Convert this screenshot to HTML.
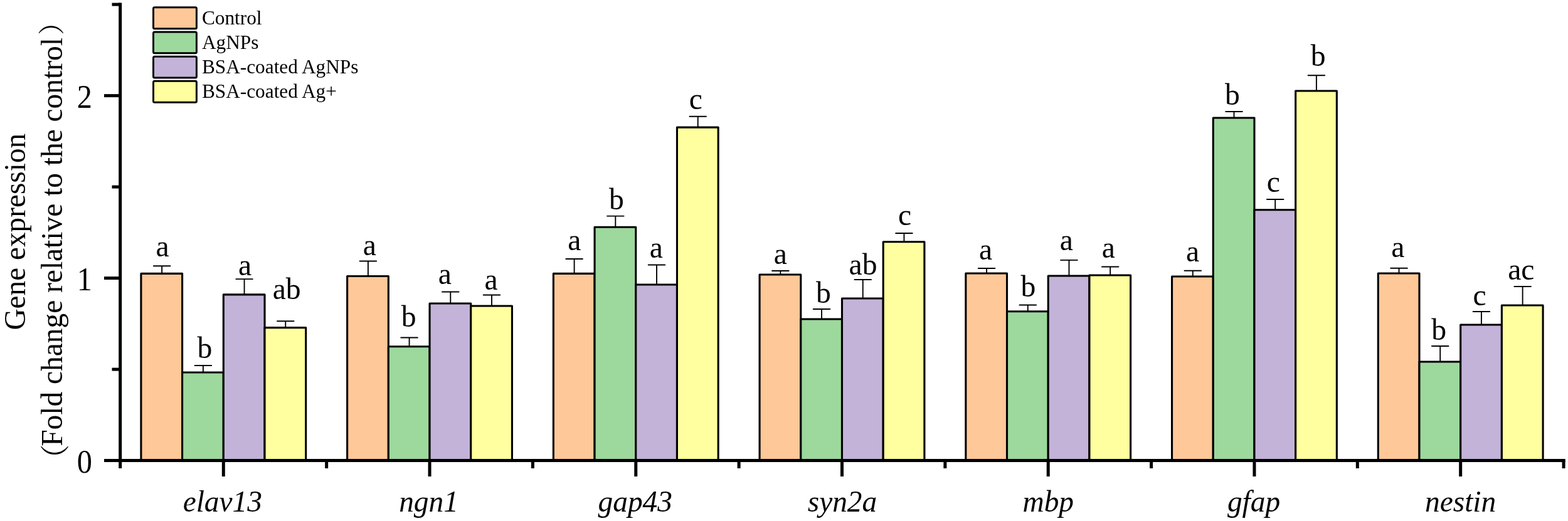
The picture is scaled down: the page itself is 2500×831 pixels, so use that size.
<!DOCTYPE html>
<html lang="en">
<head>
<meta charset="utf-8">
<title>Gene expression</title>
<style>
html,body{margin:0;padding:0;background:#fff;}
body{width:2500px;height:831px;overflow:hidden;}
svg{display:block;}
text{font-family:"Liberation Serif",serif;fill:#000;}
.l{font-size:47.6px;text-anchor:middle;}
.t{font-size:52.5px;text-anchor:end;}
.x{font-size:48.1px;font-style:italic;text-anchor:middle;}
.g{font-size:31.3px;}
.y{font-size:48px;text-anchor:middle;}
.p{font-family:"Liberation Serif","Noto Serif CJK SC",serif;}
</style>
</head>
<body>
<svg width="2500" height="831" viewBox="0 0 2500 831">
<rect width="2500" height="831" fill="#fff"/>
<g stroke="#000" stroke-width="3.1" stroke-linejoin="round">
<rect x="224.90" y="436.40" width="65.70" height="298.20" fill="#FEC898"/>
<rect x="290.60" y="594.00" width="65.70" height="140.60" fill="#9DD89D"/>
<rect x="356.30" y="469.90" width="65.70" height="264.70" fill="#C3B3D8"/>
<rect x="422.00" y="522.60" width="65.70" height="212.00" fill="#FFFFA0"/>
<rect x="553.63" y="440.50" width="65.70" height="294.10" fill="#FEC898"/>
<rect x="619.33" y="552.80" width="65.70" height="181.80" fill="#9DD89D"/>
<rect x="685.03" y="484.00" width="65.70" height="250.60" fill="#C3B3D8"/>
<rect x="750.73" y="488.00" width="65.70" height="246.60" fill="#FFFFA0"/>
<rect x="882.36" y="436.40" width="65.70" height="298.20" fill="#FEC898"/>
<rect x="948.06" y="362.20" width="65.70" height="372.40" fill="#9DD89D"/>
<rect x="1013.76" y="454.00" width="65.70" height="280.60" fill="#C3B3D8"/>
<rect x="1079.46" y="203.10" width="65.70" height="531.50" fill="#FFFFA0"/>
<rect x="1211.09" y="438.00" width="65.70" height="296.60" fill="#FEC898"/>
<rect x="1276.79" y="509.00" width="65.70" height="225.60" fill="#9DD89D"/>
<rect x="1342.49" y="476.00" width="65.70" height="258.60" fill="#C3B3D8"/>
<rect x="1408.19" y="385.70" width="65.70" height="348.90" fill="#FFFFA0"/>
<rect x="1539.82" y="436.00" width="65.70" height="298.60" fill="#FEC898"/>
<rect x="1605.52" y="496.80" width="65.70" height="237.80" fill="#9DD89D"/>
<rect x="1671.22" y="440.00" width="65.70" height="294.60" fill="#C3B3D8"/>
<rect x="1736.92" y="439.00" width="65.70" height="295.60" fill="#FFFFA0"/>
<rect x="1868.55" y="441.00" width="65.70" height="293.60" fill="#FEC898"/>
<rect x="1934.25" y="188.00" width="65.70" height="546.60" fill="#9DD89D"/>
<rect x="1999.95" y="334.80" width="65.70" height="399.80" fill="#C3B3D8"/>
<rect x="2065.65" y="145.00" width="65.70" height="589.60" fill="#FFFFA0"/>
<rect x="2197.28" y="436.00" width="65.70" height="298.60" fill="#FEC898"/>
<rect x="2262.98" y="577.00" width="65.70" height="157.60" fill="#9DD89D"/>
<rect x="2328.68" y="518.00" width="65.70" height="216.60" fill="#C3B3D8"/>
<rect x="2394.38" y="487.00" width="65.70" height="247.60" fill="#FFFFA0"/>
</g>
<g stroke="#000" stroke-width="1.9" stroke-linecap="round" fill="none">
<path d="M258.15 436.40V424.30M244.85 424.30H271.45"/>
<path d="M323.85 594.00V583.00M310.55 583.00H337.15"/>
<path d="M389.55 469.90V445.10M376.25 445.10H402.85"/>
<path d="M455.25 522.60V512.30M441.95 512.30H468.55"/>
<path d="M586.88 440.50V416.50M573.58 416.50H600.18"/>
<path d="M652.58 552.80V538.50M639.28 538.50H665.88"/>
<path d="M718.28 484.00V465.50M704.98 465.50H731.58"/>
<path d="M783.98 488.00V470.50M770.68 470.50H797.28"/>
<path d="M915.61 436.40V413.00M902.31 413.00H928.91"/>
<path d="M981.31 362.20V344.60M968.01 344.60H994.61"/>
<path d="M1047.01 454.00V422.50M1033.71 422.50H1060.31"/>
<path d="M1112.71 203.10V185.70M1099.41 185.70H1126.01"/>
<path d="M1244.34 438.00V432.00M1231.04 432.00H1257.64"/>
<path d="M1310.04 509.00V493.00M1296.74 493.00H1323.34"/>
<path d="M1375.74 476.00V446.00M1362.44 446.00H1389.04"/>
<path d="M1441.44 385.70V372.00M1428.14 372.00H1454.74"/>
<path d="M1573.07 436.00V428.00M1559.77 428.00H1586.37"/>
<path d="M1638.77 496.80V486.50M1625.47 486.50H1652.07"/>
<path d="M1704.47 440.00V414.90M1691.17 414.90H1717.77"/>
<path d="M1770.17 439.00V425.50M1756.87 425.50H1783.47"/>
<path d="M1901.80 441.00V431.80M1888.50 431.80H1915.10"/>
<path d="M1967.50 188.00V178.00M1954.20 178.00H1980.80"/>
<path d="M2033.20 334.80V318.00M2019.90 318.00H2046.50"/>
<path d="M2098.90 145.00V120.20M2085.60 120.20H2112.20"/>
<path d="M2230.53 436.00V427.80M2217.23 427.80H2243.83"/>
<path d="M2296.23 577.00V552.00M2282.93 552.00H2309.53"/>
<path d="M2361.93 518.00V497.00M2348.63 497.00H2375.23"/>
<path d="M2427.63 487.00V457.00M2414.33 457.00H2440.93"/>
</g>
<text class="l" x="259.00" y="409.20">a</text>
<text class="l" x="326.50" y="570.60">b</text>
<text class="l" x="390.50" y="439.20">a</text>
<text class="l" x="457.10" y="477.00">ab</text>
<text class="l" x="589.40" y="407.30">a</text>
<text class="l" x="651.60" y="521.40">b</text>
<text class="l" x="709.20" y="452.90">a</text>
<text class="l" x="783.00" y="461.70">a</text>
<text class="l" x="915.90" y="399.20">a</text>
<text class="l" x="982.80" y="334.40">b</text>
<text class="l" x="1046.30" y="410.90">a</text>
<text class="l" x="1109.35" y="173.50">c</text>
<text class="l" x="1244.20" y="420.90">a</text>
<text class="l" x="1312.80" y="482.90">b</text>
<text class="l" x="1376.00" y="437.90">ab</text>
<text class="l" x="1442.45" y="358.60">c</text>
<text class="l" x="1571.50" y="414.40">a</text>
<text class="l" x="1639.40" y="473.40">b</text>
<text class="l" x="1700.20" y="399.40">a</text>
<text class="l" x="1767.20" y="411.00">a</text>
<text class="l" x="1901.60" y="417.10">a</text>
<text class="l" x="1965.00" y="166.90">b</text>
<text class="l" x="2030.35" y="306.20">c</text>
<text class="l" x="2101.60" y="105.40">b</text>
<text class="l" x="2228.80" y="410.10">a</text>
<text class="l" x="2294.20" y="541.70">b</text>
<text class="l" x="2358.95" y="486.50">c</text>
<text class="l" x="2425.30" y="446.40">ac</text>
<g stroke="#000" stroke-width="5" fill="none">
<path d="M191.70 4.60V737.10"/>
<path d="M166.00 734.60H2495.7"/>
<path d="M166.00 443.60H191.70"/>
<path d="M166.00 152.60H191.70"/>
<path d="M178.50 589.10H191.70"/>
<path d="M178.50 298.10H191.70"/>
<path d="M178.50 7.10H191.70"/>
<path d="M356.30 734.60V760.00"/>
<path d="M520.66 734.60V747.00"/>
<path d="M685.03 734.60V760.00"/>
<path d="M849.39 734.60V747.00"/>
<path d="M1013.76 734.60V760.00"/>
<path d="M1178.12 734.60V747.00"/>
<path d="M1342.49 734.60V760.00"/>
<path d="M1506.86 734.60V747.00"/>
<path d="M1671.22 734.60V760.00"/>
<path d="M1835.59 734.60V747.00"/>
<path d="M1999.95 734.60V760.00"/>
<path d="M2164.32 734.60V747.00"/>
<path d="M2328.68 734.60V760.00"/>
<path d="M2493.05 734.60V747.00"/>
<path d="M191.70 734.60V747.00"/>
</g>
<text class="t" transform="translate(147.00 754.10) scale(0.92 1)">0</text>
<text class="t" transform="translate(147.00 463.10) scale(0.92 1)">1</text>
<text class="t" transform="translate(147.00 172.10) scale(0.92 1)">2</text>
<text class="x" transform="translate(354.80 815.60) scale(0.985 1)">elav13</text>
<text class="x" transform="translate(683.53 815.60) scale(0.985 1)">ngn1</text>
<text class="x" transform="translate(1012.76 815.60) scale(0.985 1)">gap43</text>
<text class="x" transform="translate(1342.99 815.60) scale(0.985 1)">syn2a</text>
<text class="x" transform="translate(1671.22 815.60) scale(0.985 1)">mbp</text>
<text class="x" transform="translate(1999.05 815.60) scale(0.985 1)">gfap</text>
<text class="x" transform="translate(2328.58 815.60) scale(0.985 1)">nestin</text>
<rect x="244.5" y="11.80" width="68.9" height="33.9" rx="2" fill="#FEC898" stroke="#000" stroke-width="3"/>
<text class="g" x="321.9" y="39.10">Control</text>
<rect x="244.5" y="50.97" width="68.9" height="33.9" rx="2" fill="#9DD89D" stroke="#000" stroke-width="3"/>
<text class="g" x="321.9" y="78.05">AgNPs</text>
<rect x="244.5" y="90.14" width="68.9" height="33.9" rx="2" fill="#C3B3D8" stroke="#000" stroke-width="3"/>
<text class="g" x="321.9" y="117.00">BSA-coated AgNPs</text>
<rect x="244.5" y="129.31" width="68.9" height="33.9" rx="2" fill="#FFFFA0" stroke="#000" stroke-width="3"/>
<text class="g" x="321.9" y="155.95">BSA-coated Ag+</text>
<text class="y" transform="translate(39.70 369.70) rotate(-90) scale(0.985 1)">Gene expression</text>
<text class="y" transform="translate(98.90 386.00) rotate(-90) scale(0.988 1)"><tspan class="p" font-size="47" x="-350.25" y="5.70">（</tspan><tspan x="0" y="0">Fold change relative to the control</tspan><tspan class="p" font-size="42" x="355.26" y="-2.15">）</tspan></text>
</svg>
</body>
</html>
